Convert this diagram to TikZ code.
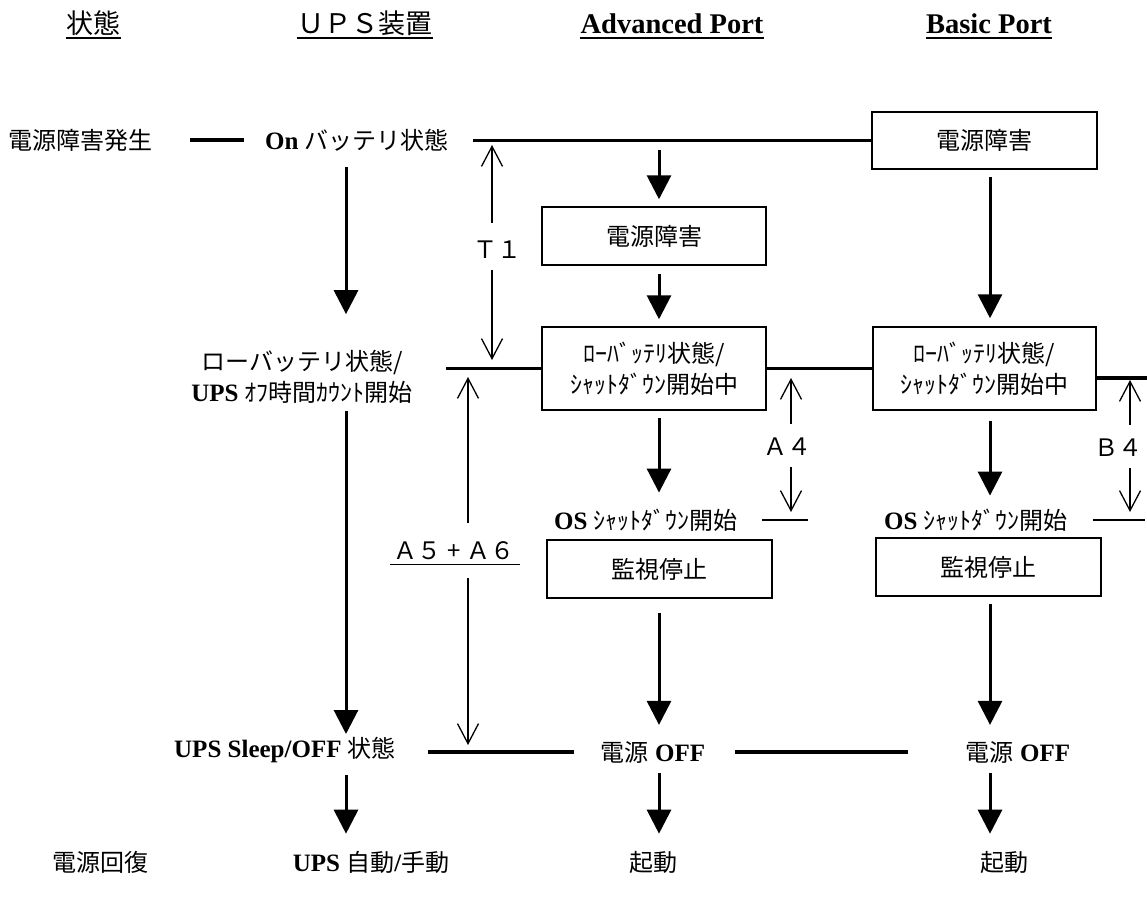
\documentclass[tikz,border=0pt]{standalone}
\usepackage{fontspec}
\setmainfont{Liberation Serif}
\newfontfamily\jpf{Noto Sans CJK JP}
\usetikzlibrary{arrows.meta,calc}
\newcommand{\J}[1]{{\jpf\mdseries\fontsize{24}{31}\selectfont #1}}
\newcommand{\JH}[1]{{\jpf\mdseries\fontsize{27}{31}\selectfont #1}}
\begin{document}
\begin{tikzpicture}[x=1pt,y=-1pt,font=\fontsize{25}{31}\selectfont\bfseries,
  txt/.style={inner sep=0pt,align=center},
  hdr/.style={inner sep=0pt,anchor=base},
  box/.style={draw,line width=1.5pt,minimum width=224pt,minimum height=58pt,inner sep=0pt,align=center},
  hl/.style={line width=3.5pt},
  osl/.style={line width=2pt},
  ul/.style={line width=2.5pt},
  bigarr/.style={line width=3pt,-{Triangle[length=24pt,width=24pt]}},
  thinarr/.style={line width=1.3pt,-{Straight Barb[length=20pt,width=21pt]}}]
\useasboundingbox (0,0) rectangle (1147,897);

% header
\node[hdr] (h1) at (93.5,33) {\JH{状態}};
\node[hdr] (h2) at (365,33) {\JH{ＵＰＳ装置}};
\node[hdr,font=\fontsize{28.5}{31}\selectfont\bfseries] (h3) at (672,33) {Advanced Port};
\node[hdr,font=\fontsize{28.5}{31}\selectfont\bfseries] (h4) at (989,33) {Basic Port};
\foreach \h in {h1,h2,h3,h4}
  \draw[ul] ($(\h.base west)+(0,5)$) -- ($(\h.base east)+(0,5)$);

% columns
\coordinate (ucol) at (346,0);
\coordinate (acol) at (659,0);
\coordinate (bcol) at (990,0);

% nodes
\node[txt] (ev1) at (81,140) {\J{電源障害発生}};
\node[txt] (ups1) at (357,140) {On \J{バッテリ状態}};
\node[box,minimum width=225pt,minimum height=57pt] (bp1) at (984.5,140.5) {\J{電源障害}};
\node[box] (ap1) at (654,236) {\J{電源障害}};
\node[box,minimum height=83pt] (ap2) at (654,368.5) {\J{ﾛｰﾊﾞｯﾃﾘ状態/}\\\J{ｼｬｯﾄﾀﾞｳﾝ開始中}};
\node[box,minimum width=223pt,minimum height=83pt] (bp2) at (984.5,368.5) {\J{ﾛｰﾊﾞｯﾃﾘ状態/}\\\J{ｼｬｯﾄﾀﾞｳﾝ開始中}};
\node[txt] (ups2) at (302,377) {\J{ローバッテリ状態/}\\UPS \J{ｵﾌ時間ｶｳﾝﾄ開始}};
\node[txt] (aos) at (646,520) {OS \J{ｼｬｯﾄﾀﾞｳﾝ開始}};
\node[txt] (bos) at (976,520) {OS \J{ｼｬｯﾄﾀﾞｳﾝ開始}};
\node[box,minimum width=225pt] (ap3) at (659.5,569) {\J{監視停止}};
\node[box,minimum width=225pt] (bp3) at (988.5,567) {\J{監視停止}};
\node[txt] (ups3) at (285,750) {UPS Sleep/OFF \J{状態}};
\node[txt] (aoff) at (653,752) {\J{電源} OFF};
\node[txt] (boff) at (1018,752) {\J{電源} OFF};
\node[txt] (ev2) at (100,862) {\J{電源回復}};
\node[txt] (ups4) at (371,862) {UPS \J{自動}/\J{手動}};
\node[txt] (aboot) at (653,862) {\J{起動}};
\node[txt] (bboot) at (1004,862) {\J{起動}};

% horizontal lines
\draw[hl,shorten <=37pt,shorten >=21pt] (ev1.east) -- (ups1.west);
\draw[hl,shorten <=24pt] (ups1.east |- bp1.west) -- (bp1.west);
\draw[hl,shorten <=33pt] (ups2.east |- ap2.west) -- (ap2.west);
\draw[hl] (ap2.east) -- (bp2.west);
\coordinate (rend) at (1147,378);
\draw[hl] (bp2.east |- rend) -- (rend);
\draw[hl,shorten <=32pt,shorten >=27pt] (ups3.east |- aoff.west) -- (aoff.west);
\draw[hl,shorten <=30pt,shorten >=58pt] (aoff.east) -- (boff.west);
\coordinate (a4e) at (808,520);
\draw[osl,shorten <=24pt] (aos.east) -- (a4e);
\coordinate (b4e) at (1145,520);
\draw[osl,shorten <=25pt] (bos.east) -- (b4e);

% UPS column arrows
\draw[bigarr,shorten <=16pt,shorten >=36pt] (ups1.south -| ucol) -- (ups2.north -| ucol);
\draw[bigarr,shorten <=7pt,shorten >=3pt] (ups2.south -| ucol) -- (ups3.north -| ucol);
\draw[bigarr,shorten <=12pt,shorten >=17pt] (ups3.south -| ucol) -- (ups4.north -| ucol);

% Advanced column arrows
\coordinate (adrop) at (659,139);
\draw[bigarr,shorten <=11pt,shorten >=7pt] (adrop) -- (ap1.north -| acol);
\draw[bigarr,shorten <=8pt,shorten >=7pt] (ap1.south -| acol) -- (ap2.north -| acol);
\draw[bigarr,shorten <=7pt,shorten >=16pt] (ap2.south -| acol) -- (aos.north -| acol);
\draw[bigarr,shorten <=14pt,shorten >=16pt] (ap3.south -| acol) -- (aoff.north -| acol);
\draw[bigarr,shorten <=10pt,shorten >=17pt] (aoff.south -| acol) -- (aboot.north -| acol);

% Basic column arrows
\draw[bigarr,shorten <=7pt,shorten >=8pt] (bp1.south -| bcol) -- (bp2.north -| bcol);
\draw[bigarr,shorten <=10pt,shorten >=13pt] (bp2.south -| bcol) -- (bos.north -| bcol);
\draw[bigarr,shorten <=7pt,shorten >=16pt] (bp3.south -| bcol) -- (boff.north -| bcol);
\draw[bigarr,shorten <=10pt,shorten >=17pt] (boff.south -| bcol) -- (bboot.north -| bcol);

% timing arrows
\node[txt] (t1) at (497,250) {\J{Ｔ１}};
\coordinate (t1u) at (492,145);
\coordinate (t1d) at (492,360);
\draw[thinarr,shorten <=18pt] (t1u |- t1.north) -- (t1u);
\draw[thinarr,shorten <=11pt] (t1d |- t1.south) -- (t1d);

\node[txt] (a56) at (454,551) {\J{Ａ５ + Ａ６}};
\draw[line width=1.5pt] ($(a56.south west)+(-4,4)$) -- ($(a56.south east)+(6,4)$);
\coordinate (a56u) at (468,377);
\coordinate (a56d) at (468,745);
\draw[thinarr,shorten <=19pt] (a56u |- a56.north) -- (a56u);
\draw[thinarr,shorten <=18pt] (a56d |- a56.south) -- (a56d);

\node[txt] (a4) at (787,447) {\J{Ａ４}};
\coordinate (a4u) at (791,378);
\coordinate (a4d) at (791,512);
\draw[thinarr,shorten <=14pt] (a4u |- a4.north) -- (a4u);
\draw[thinarr,shorten <=11pt] (a4d |- a4.south) -- (a4d);

\node[txt] (b4) at (1118,448) {\J{Ｂ４}};
\coordinate (b4u) at (1130,380);
\coordinate (b4d) at (1130,512);
\draw[thinarr,shorten <=14pt] (b4u |- b4.north) -- (b4u);
\draw[thinarr,shorten <=11pt] (b4d |- b4.south) -- (b4d);
\end{tikzpicture}
\end{document}
